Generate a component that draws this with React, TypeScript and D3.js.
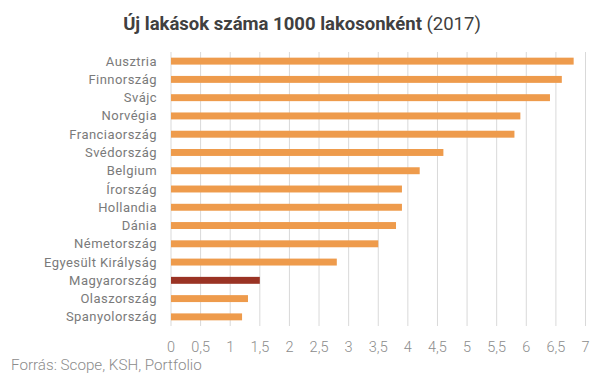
import React from "react";
import * as d3 from "d3";

const categories = [
  "Ausztria", "Finnország", "Svájc", "Norvégia", "Franciaország", "Svédország",
  "Belgium", "Írország", "Hollandia", "Dánia", "Németország", "Egyesült Királyság",
  "Magyarország", "Olaszország", "Spanyolország",
];
const values = [6.8, 6.6, 6.4, 5.9, 5.8, 4.6, 4.2, 3.9, 3.9, 3.8, 3.5, 2.8, 1.5, 1.3, 1.2];
const tickValues = [0, 0.5, 1, 1.5, 2, 2.5, 3, 3.5, 4, 4.5, 5, 5.5, 6, 6.5, 7];
const highlight = "Magyarország";

const W = 605, H = 379;
const left = 171, right = 585.5, top = 52, bottom = 326;

export default function App() {
  const x = d3.scaleLinear().domain([0, 7]).range([left, right]);
  const y = d3.scaleBand<string>().domain(categories).range([top, bottom]).paddingInner(0.62).paddingOuter(0.31);
  const fmt = (v: number) => String(v).replace(".", ",");
  const font = "Roboto, 'Noto Sans', sans-serif";
  return (
    <svg width={W} height={H} style={{ position: "absolute", left: 0, top: 0, background: "#fff" }} fontFamily={font}>
      <text x={302} y={30} textAnchor="middle" fontSize={18.5} fill="#404040">
        <tspan fontWeight="bold">Új lakások száma 1000 lakosonként</tspan>
        <tspan> (2017)</tspan>
      </text>
      {tickValues.map((t) => (
        <g key={t}>
          <line x1={x(t)} x2={x(t)} y1={top} y2={bottom} stroke="#d9d9d9" strokeWidth={1} />
          <text x={x(t)} y={351.5} textAnchor="middle" fontSize={14.5} fill="#8c8c8c" fontWeight={300}>{fmt(t)}</text>
        </g>
      ))}
      {categories.map((c, i) => (
        <g key={c}>
          <rect x={x(0)} y={y(c)!} width={x(values[i]) - x(0)} height={y.bandwidth()}
            fill={c === highlight ? "#9A3324" : "#EE9B4C"} />
          <text x={157} y={y(c)! + y.bandwidth() / 2} dy="0.35em" textAnchor="end" fontSize={13} letterSpacing={0.45} fill="#7a7a7a">{c}</text>
        </g>
      ))}
      <text x={11} y={370} fontSize={15.2} fill="#8c8c8c" fontWeight={300}>Forrás: Scope, KSH, Portfolio</text>
    </svg>
  );
}
